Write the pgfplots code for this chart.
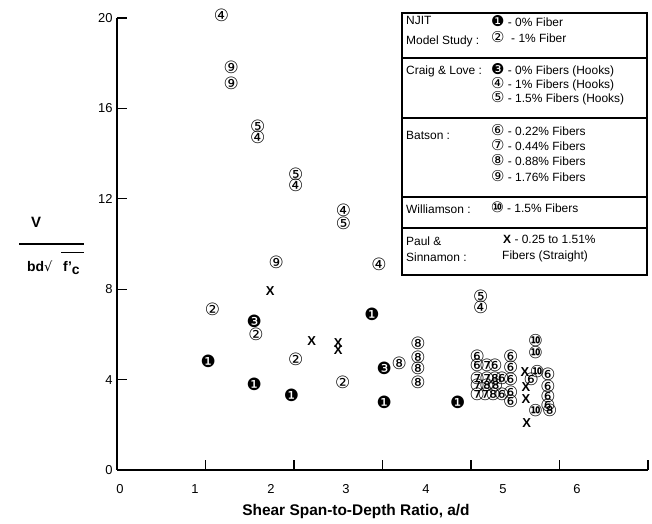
\documentclass[border=0pt]{standalone}
\usepackage{fontspec}
\setmainfont{Liberation Sans}
\newfontfamily\sym{DejaVu Sans}
\usepackage{pgfplots}
\pgfplotsset{compat=1.18}
\pgfplotsset{sym/.style={only marks,mark=text,
  text mark={\sym\fontsize{17}{17}\selectfont #1}}}
\newcommand\legfont{\fontsize{12}{12}\selectfont}
\newcommand\ls[1]{{\sym\fontsize{15}{12}\selectfont #1}}
\begin{document}
\begin{tikzpicture}[x=1bp,y=1bp]
\path[use as bounding box] (0,0) rectangle (652,524);
\begin{axis}[at={(117bp,54bp)},anchor=south west,scale only axis,
  width=531bp,height=452bp,xmin=0,xmax=6,ymin=0,ymax=20,clip=false,
  axis x line*=bottom,axis y line*=left,
  axis line style={line width=1.5bp},
  tick align=inside,major tick length=10bp,
  every tick/.style={black,line width=1.3bp},
  xtick={1,2,3,4,5,6},xticklabels={},
  ytick={0,4,8,12,16,20},
  extra x ticks={0.034,0.881,1.740,2.588,3.492,4.362,5.198},
  extra x tick labels={0,1,2,3,4,5,6},
  extra x tick style={major tick length=0pt,xticklabel style={yshift=-11bp}},
  yticklabel style={xshift=-1bp},
  ticklabel style={font=\fontsize{13}{13}\selectfont},
  /pgf/number format/assume math mode=true]
% NJIT 0%
\addplot[sym={❶}] coordinates {(1.03,4.8)(1.55,3.8)(1.97,3.3)(2.88,6.9)(3.02,3.0)(3.85,3.0)};
% NJIT 1%
\addplot[sym={②}] coordinates {(1.08,7.1)(1.57,6.0)(2.02,4.9)(2.55,3.9)};
% Craig & Love
\addplot[sym={❸}] coordinates {(1.55,6.6)(3.02,4.5)};
\addplot[sym={④}] coordinates {(1.18,20.1)(1.59,14.7)(2.02,12.6)(2.56,11.5)(2.96,9.1)(4.11,7.2)};
\addplot[sym={⑤}] coordinates {(1.59,15.2)(2.02,13.1)(2.56,10.9)(4.11,7.7)};
% Batson
\addplot[sym={⑥}] coordinates {(4.07,5.04)(4.07,4.65)(4.27,4.65)(4.35,4.07)(4.35,3.37)
  (4.45,5.04)(4.45,4.56)(4.45,4.03)(4.45,3.45)(4.45,3.05)(4.68,4.03)
  (4.87,4.25)(4.87,3.72)(4.87,3.27)(4.87,2.88)};
\addplot[sym={⑦}] coordinates {(4.18,4.65)(4.07,4.07)(4.18,4.07)(4.07,3.76)(4.07,3.37)(4.16,3.37)};
\addplot[sym={⑧}] coordinates {(3.19,4.7)(3.40,5.6)(3.40,5.0)(3.40,4.5)(3.40,3.9)
  (4.27,4.07)(4.18,3.76)(4.28,3.76)(4.25,3.37)(4.89,2.65)};
\addplot[sym={⑨}] coordinates {(1.29,17.8)(1.29,17.1)(1.80,9.2)};
% Williamson
\addplot[sym={\bfseries ⑩}] coordinates {(4.73,5.71)(4.73,5.18)(4.75,4.34)(4.73,2.61)};
% Paul & Sinnamon
\addplot[only marks,mark=text,text mark={\bfseries\fontsize{13}{13}\selectfont X}]
  coordinates {(1.73,7.9)(2.20,5.7)(2.50,5.6)(2.50,5.3)(4.61,4.34)(4.62,3.67)(4.62,3.14)(4.63,2.08)};
\end{axis}
% axis title and y label
\node[font=\bfseries\fontsize{15.5}{15.5}\selectfont] at (356,12) {Shear Span-to-Depth Ratio, a/d};
\node[font=\bfseries\fontsize{15}{15}\selectfont] at (36,302) {V};
\draw[line width=2.5bp] (19,280) -- (84,280);
\node[font=\bfseries\fontsize{14}{14}\selectfont,anchor=base west,inner sep=0pt] at (27,252) {bd{\sym\mdseries\fontsize{13}{13}\selectfont √}};
\node[font=\bfseries\fontsize{14}{14}\selectfont,anchor=base west,inner sep=0pt] at (63,252) {f'\raisebox{-0.35ex}{c}};
\draw[line width=1bp] (61,271) -- (84,271);
% legend box
\draw[line width=1.3bp] (402,511) rectangle (647,249);
\foreach \yy in {466,406,327,296} \draw[line width=1.3bp] (402,\yy) -- (647,\yy);
\begin{scope}[every node/.style={anchor=mid west,inner sep=0pt,font=\legfont}]
\node at (406,502) {NJIT};
\node at (406,482) {Model Study :};
\node at (491,500) {\ls{❶} - 0\% Fiber};
\node at (491,484) {\ls{②}\ \ - 1\% Fiber};
\node at (406,452) {Craig \& Love :};
\node at (491,452) {\ls{❸} - 0\% Fibers (Hooks)};
\node at (491,438) {\ls{④} - 1\% Fibers (Hooks)};
\node at (491,424) {\ls{⑤} - 1.5\% Fibers (Hooks)};
\node at (406,387) {Batson :};
\node at (491,391) {\ls{⑥} - 0.22\% Fibers};
\node at (491,376) {\ls{⑦} - 0.44\% Fibers};
\node at (491,361) {\ls{⑧} - 0.88\% Fibers};
\node at (491,345) {\ls{⑨} - 1.76\% Fibers};
\node at (406,313) {Williamson :};
\node at (491,314) {\ls{\bfseries ⑩} - 1.5\% Fibers};
\node at (406,281) {Paul \&};
\node at (406,265) {Sinnamon :};
\node at (503,283) {\textbf{X} - 0.25 to 1.51\%};
\node at (502,267) {Fibers (Straight)};
\end{scope}
\end{tikzpicture}
\end{document}
